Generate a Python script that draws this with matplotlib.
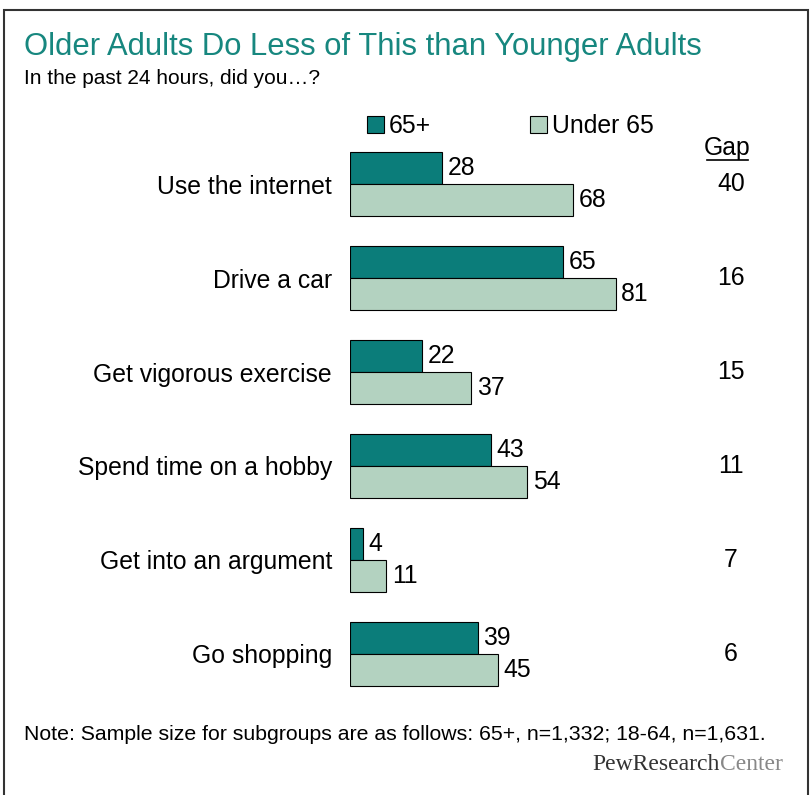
import matplotlib.pyplot as plt
from matplotlib.patches import Rectangle, Patch
import matplotlib.transforms as mtransforms

plt.rcParams['font.family'] = ['Liberation Sans', 'DejaVu Sans']

categories = ['Use the internet', 'Drive a car', 'Get vigorous exercise',
              'Spend time on a hobby', 'Get into an argument', 'Go shopping']
older = [28, 65, 22, 43, 4, 39]
younger = [68, 81, 37, 54, 11, 45]
gap = [40, 16, 15, 11, 7, 6]
series_names = ['65+', 'Under 65']

teal = '#0b7d7a'
sage = '#b3d2c0'

W, H = 811, 795
fig = plt.figure(figsize=(W / 100, H / 100), dpi=100)

# outer frame
fig.patches.append(Rectangle((4 / W, -0.02), 804 / W, 1.02 - 10 / H, transform=fig.transFigure,
                             fill=False, edgecolor='#333333', linewidth=1.5))

ax = fig.add_axes([350 / W, 1 - 701 / H, 328 / W, 564 / H])
y = list(range(len(categories)))
h = 0.34
ax.barh([v - h / 2 for v in y], older, height=h, color=teal, edgecolor='black', linewidth=0.8)
ax.barh([v + h / 2 for v in y], younger, height=h, color=sage, edgecolor='black', linewidth=0.8)
ax.set_xlim(0, 100)
ax.set_ylim(5.5, -0.5)
ax.set_yticks(y)
ax.set_yticklabels(categories, fontsize=17.8)
ax.tick_params(axis='y', length=0, pad=13)
ax.set_xticks([])
for s in ax.spines.values():
    s.set_visible(False)

for i in y:
    ax.annotate(str(older[i]), (older[i], i - h / 2), xytext=(4, 0), textcoords='offset points',
                va='center', ha='left', fontsize=17.8)
    ax.annotate(str(younger[i]), (younger[i], i + h / 2), xytext=(4, 0), textcoords='offset points',
                va='center', ha='left', fontsize=17.8)

# gap column
trans = mtransforms.blended_transform_factory(fig.transFigure, ax.transData)
for i in y:
    ax.text(731 / W, i, str(gap[i]), transform=trans, ha='center', va='center', fontsize=17.8)
fig.text(727 / W, 1 - 148 / H, 'Gap', ha='center', va='center', fontsize=17.8)
fig.add_artist(plt.Line2D([707 / W, 748 / W], [1 - 160 / H, 1 - 160 / H], color='black', linewidth=1.2))

# legend
handles = [Patch(facecolor=teal, edgecolor='black', linewidth=0.8),
           Patch(facecolor=sage, edgecolor='black', linewidth=0.8)]
fig.legend(handles, series_names, loc='center left', bbox_to_anchor=(367 / W, 1 - 126 / H),
           ncol=2, frameon=False, fontsize=17.8, handlelength=0.68, handleheight=0.68,
           handletextpad=0.2, columnspacing=4.0, borderaxespad=0, borderpad=0)

fig.text(24 / W, 1 - 47 / H, 'Older Adults Do Less of This than Younger Adults',
         color='#17877f', fontsize=22.3, ha='left', va='center')
fig.text(24 / W, 1 - 78 / H, 'In the past 24 hours, did you\u2026?', fontsize=15, ha='left', va='center')
fig.text(24 / W, 1 - 735 / H,
         'Note: Sample size for subgroups are as follows: 65+, n=1,332; 18-64, n=1,631.',
         fontsize=15.3, ha='left', va='center')
fig.text(720 / W, 1 - 765 / H, 'PewResearch', family='Liberation Serif', fontsize=17,
         color='#333333', ha='right', va='center')
fig.text(720 / W, 1 - 765 / H, 'Center', family='Liberation Serif', fontsize=17,
         color='#888888', ha='left', va='center')

fig.savefig('out.png', dpi=100)
